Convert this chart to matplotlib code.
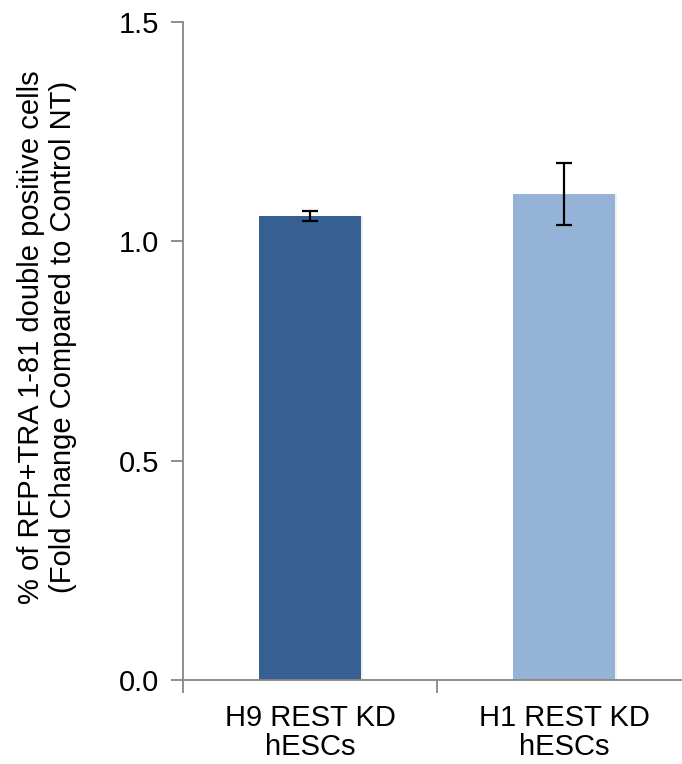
import numpy as np
import matplotlib.pyplot as plt

plt.rcParams['font.family'] = ['Liberation Sans', 'DejaVu Sans']

categories = ["H9 REST KD\nhESCs", "H1 REST KD\nhESCs"]
values = [1.058, 1.108]
errors = [0.011, 0.070]
colors = ["#376092", "#95b3d7"]
yticks = [0.0, 0.5, 1.0, 1.5]

fig = plt.figure(figsize=(6.82, 7.64), dpi=100)
ax = fig.add_axes([183 / 682, 84 / 764, 508 / 682, 658 / 764])

x = np.arange(len(categories))
# soft shadow behind the bars
ax.bar(x + 0.01, values, width=0.4, color="#000000", alpha=0.06, zorder=1)
ax.bar(x, values, width=0.4, color=colors, zorder=2)
ax.errorbar(x, values, yerr=errors, fmt="none", ecolor="black",
            elinewidth=1.6, capsize=6, capthick=1.6, zorder=3)

ax.set_xlim(-0.5, len(categories) - 0.5)
ax.set_ylim(0, 1.5)
ax.set_yticks(yticks)
ax.set_yticklabels([f"{t:.1f}" for t in yticks])

# boundary ticks as major, labels on minor ticks at the bar centres
ax.set_xticks(np.arange(len(categories) + 1) - 0.5)
ax.set_xticklabels([])
ax.set_xticks(x, minor=True)
ax.set_xticklabels(categories, minor=True, fontsize=21, linespacing=1.05)
ax.tick_params(axis="x", which="minor", length=0, pad=17)
ax.tick_params(axis="x", which="major", length=9, width=1.3, color="#868686")
ax.tick_params(axis="y", length=9, width=1.3, color="#868686", labelsize=21, pad=8)

for s in ["top", "right"]:
    ax.spines[s].set_visible(False)
for s in ["left", "bottom"]:
    ax.spines[s].set_color("#868686")
    ax.spines[s].set_linewidth(1.3)

ax.set_ylabel("% of RFP+TRA 1-81 double positive cells\n(Fold Change Compared to Control NT)",
              fontsize=21, linespacing=1.15, va="center", ha="center")
ax.yaxis.set_label_coords(-0.268, 0.521)

plt.savefig("out.png", dpi=100)
